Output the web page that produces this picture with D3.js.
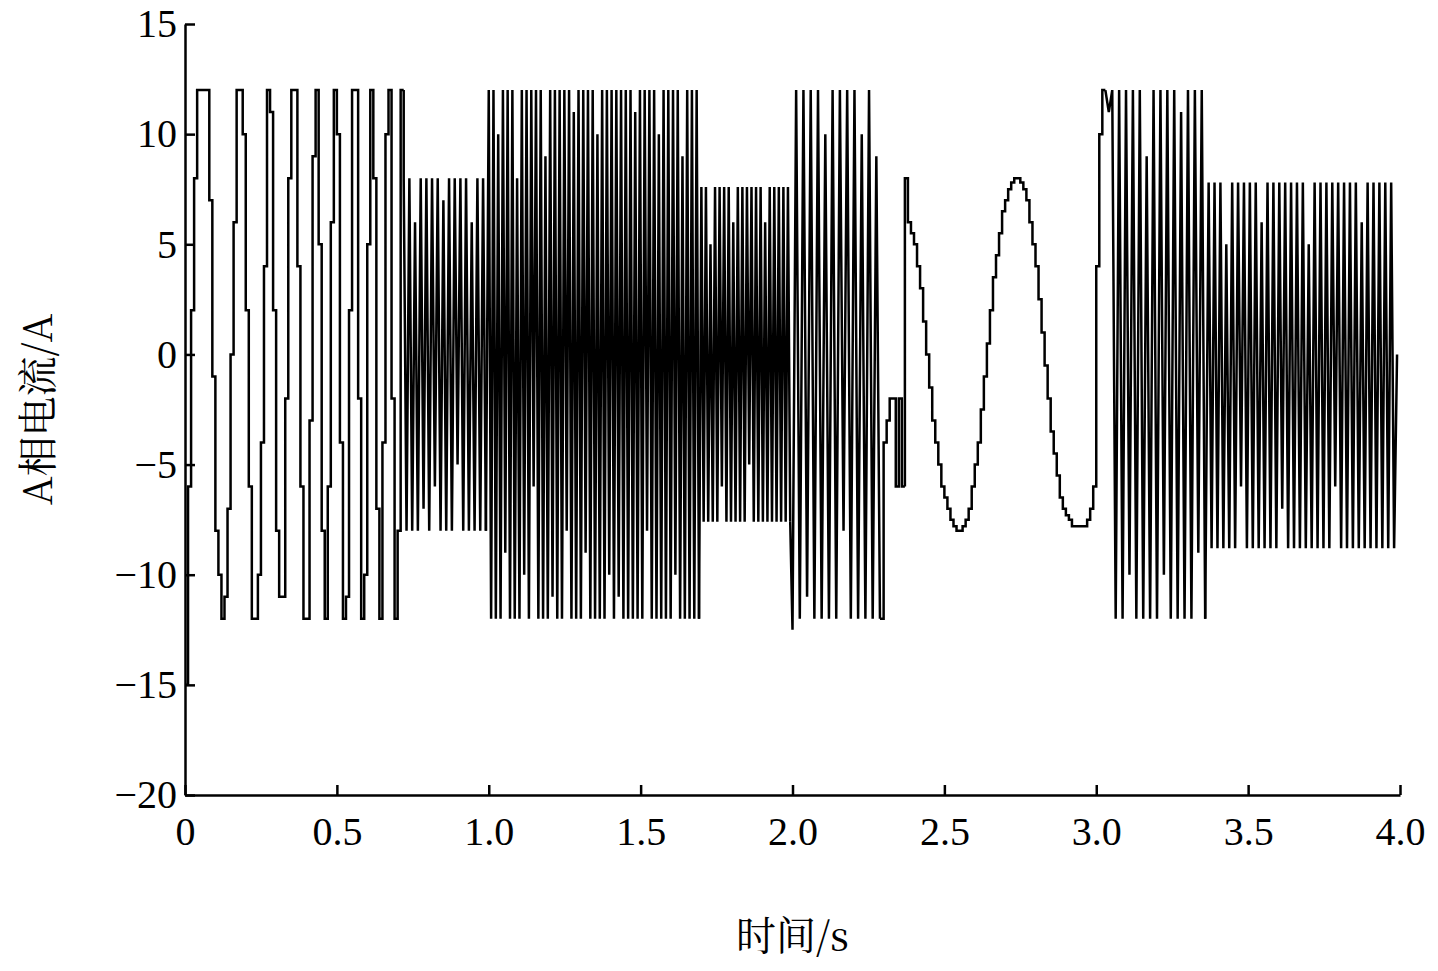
<!DOCTYPE html>
<html><head><meta charset="utf-8">
<script src="https://cdn.jsdelivr.net/npm/d3@7"></script>
<style>body{margin:0;background:#fff}</style>
</head><body><div id="chart"></div>
<script>
// segments of the stepped current waveform: [start, end, values, stepped]
const segA = [0, 0.72, [-15,-6,2,8,12,12,12,12,7,-1,-8,-10,-12,-11,-7,0,6,12,12,10,2,-6,-12,-12,-10,-4,4,12,11,2,-8,-11,-11,-2,8,12,12,4,-6,-12,-12,-3,9,12,5,-8,-12,-6,6,12,10,-4,-12,-11,2,12,12,-2,-12,-10,5,12,8,-7,-12,-4,10,12,-2,-12,-8,12], true];
const segB = [0.72, 1.0, [8,-8,8,-8,6,-8,8,-7,8,-8,8,-6,8,-8,7,-8,8,-8,8,-5,8,-8,8,-8,6,-8,8,-8,8,-8], false];
const segC = [1.0, 1.7, [12,-12,12,-12,10,-12,12,-9,12,-12,12,-12,8,-12,12,-10,12,-12,12,-6,12,-12,12,-12,9,-12,12,-11,12,-12,12,-12,12,-8,12,-12,11,-12,12,-12,12,-9,12,-12,12,-12,10,-12,12,-12,12,-10,12,-12,12,-11,12,-12,12,-12,12,-12,11,-12,12,-12,12,-8,12,-12,12,-12,10,-12,12,-12,12,-12,12,-10,12,-12,9,-12,12,-12,12,-12,12,-12], false];
const segD = [1.7, 2.0, [7.6,-7.6,7.6,-7.6,5,-7.6,7.6,-7.6,7.6,-6,7.6,-7.6,7.6,-7.6,6,-7.6,7.6,-7.6,7.6,-7.6,7.6,-5,7.6,-7.6,7.6,-7.6,7.6,-7.6,6,-7.6,7.6,-7.6,7.6,-7.6,7.6,-7.6,7.6,-7.6,7.6,-7.6], false];
const segE = [2.0, 2.3, [-12.5,12,-12,12,-11,12,-12,12,-12,10,-12,12,-12,12,-8,12,-12,12,-12,10,-12,12,-12,9,-12], false];
const segF = [2.3, 2.37, [-4,-3,-2,-2,-6,-2,-6], true];
const segG = [2.37, 3.03, [8,6,5.5,5,4,3,1.5,0,-1.5,-3,-4,-5,-6,-6.5,-7,-7.5,-7.8,-8,
  -8,-7.8,-7.5,
  -7,-6,-5,-4,-2.5,-1,0.5,2,3.5,4.5,5.5,6.5,7,7.5,7.8,8,8,
  7.8,
  7.5,7,6,5,4,2.5,1,-0.5,-2,-3.5,-4.5,-5.5,-6.5,-7,-7.3,-7.5,-7.8,-7.8,-7.8,-7.8,
  -7.8,-7.5,-7,-6,4,10,12], true];
const segH = [3.03, 3.37, [12,11,12,-12,12,-12,12,-10,12,-12,12,-12,9,-12,12,-12,12,-10,12,-12,12,-12,11,-12,12,-12,12,-9,12,-12], false];
const segI = [3.37, 4.0, [7.8,-8.8,7.8,-8.8,7.8,-8.8,5,-8.8,7.8,-8.8,7.8,-6,7.8,-8.8,7.8,-8.8,7.8,-8.8,6,-8.8,7.8,-8.8,7.8,-8.8,7.8,-7,7.8,-8.8,7.8,-8.8,7.8,-8.8,7.8,-8.8,5,-8.8,7.8,-8.8,7.8,-8.8,7.8,-8.8,7.8,-6,7.8,-8.8,7.8,-8.8,7.8,-8.8,7.8,-8.8,6,-8.8,7.8,-8.8,7.8,-8.8,7.8,-8.8,7.8,-8.8,7.8,-8.8,0], false];
const segments = [segA, segB, segC, segD, segE, segF, segG, segH, segI];

const xTicks = [0, 0.5, 1.0, 1.5, 2.0, 2.5, 3.0, 3.5, 4.0];
const yTicks = [15, 10, 5, 0, -5, -10, -15, -20];

const width = 1438, height = 971;
const margin = { top: 24, right: 38, bottom: 176, left: 185 };

const svg = d3.select("#chart").append("svg")
  .attr("width", width).attr("height", height);

const x = d3.scaleLinear().domain([0, 4]).range([margin.left, width - margin.right]);
const y = d3.scaleLinear().domain([-20, 15]).range([height - margin.bottom, margin.top]);

const font = "'Liberation Serif','Times New Roman',serif";
const cjk = "'Noto Serif CJK SC','Noto Sans CJK SC'," + font;
const fmt = d => d === 0 ? "0" : (d < 0 ? "\u2212" + Math.abs(d) : String(d));

const xAxis = svg.append("g")
  .attr("transform", `translate(0,${y(-20)})`)
  .call(d3.axisBottom(x).tickValues(xTicks).tickSize(-10).tickSizeOuter(0).tickPadding(22)
    .tickFormat(d => d === 0 ? "0" : d3.format(".1f")(d)));
const yAxis = svg.append("g")
  .attr("transform", `translate(${x(0)},0)`)
  .call(d3.axisLeft(y).tickValues(yTicks).tickSize(-10).tickSizeOuter(0).tickPadding(8).tickFormat(fmt));

[xAxis, yAxis].forEach(g => {
  g.selectAll("path,line").attr("stroke", "#000").attr("stroke-width", 2.5);
  g.selectAll("text").attr("font-family", font).attr("font-size", 40).attr("fill", "#000");
});

// each segment is its own path, joined to the last point of the previous one
let prev = null;
segments.forEach(([t0, t1, vals, stepped]) => {
  const dt = (t1 - t0) / vals.length;
  const pts = vals.map((v, i) => [t0 + i * dt, v]);
  if (prev) pts.unshift(prev);
  if (stepped) pts.push([t1, vals[vals.length - 1]]);
  prev = pts[pts.length - 1];
  svg.append("path")
    .datum(pts)
    .attr("fill", "none")
    .attr("stroke", "#000")
    .attr("stroke-width", 2.5)
    .attr("d", d3.line().x(d => x(d[0])).y(d => y(d[1]))
      .curve(stepped ? d3.curveStepAfter : d3.curveLinear));
});

svg.append("text")
  .attr("x", (x(0) + x(4)) / 2).attr("y", 950)
  .attr("text-anchor", "middle")
  .attr("font-family", cjk)
  .attr("font-size", 40)
  .text("时间/s");

svg.append("text")
  .attr("transform", `translate(52,${y(-2.5)}) rotate(-90)`)
  .attr("text-anchor", "middle")
  .attr("font-family", cjk)
  .attr("font-size", 40)
  .text("A相电流/A");
</script>
</body></html>
